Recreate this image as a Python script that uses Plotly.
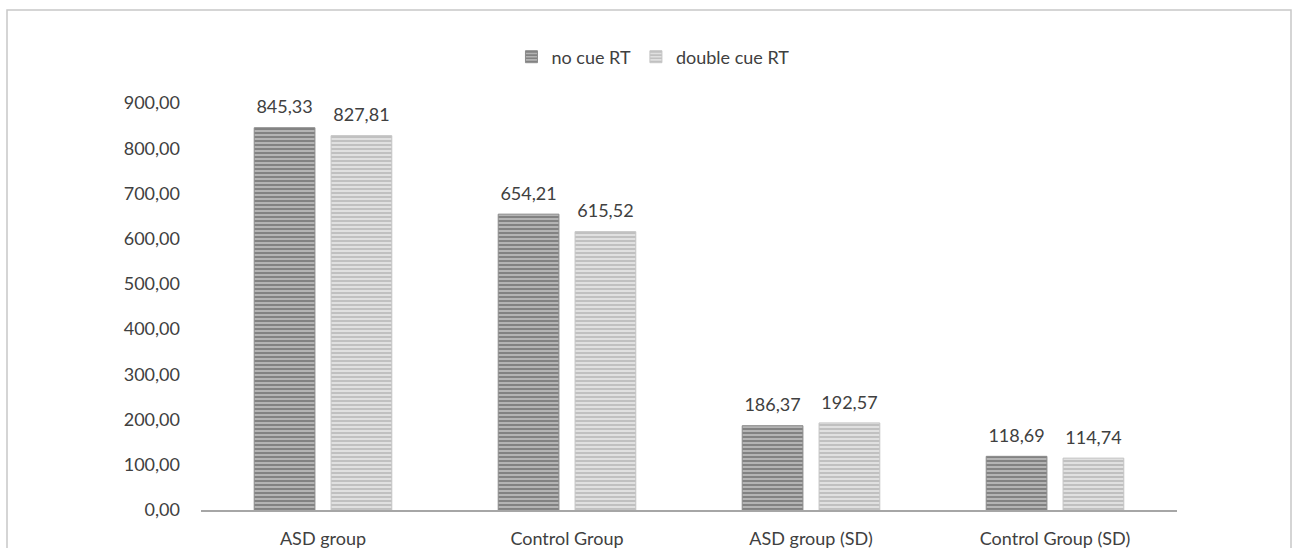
import plotly.graph_objects as go

categories = ["ASD group", "Control Group", "ASD group (SD)", "Control Group (SD)"]
no_cue = [845.33, 654.21, 186.37, 118.69]
double_cue = [827.81, 615.52, 192.57, 114.74]
series_names = ["no cue RT", "double cue RT"]
y_ticks = [0, 100, 200, 300, 400, 500, 600, 700, 800, 900]

def fmt(v):
    return f"{v:.2f}".replace(".", ",")

FONT = "Lato, 'Open Sans', sans-serif"
TXT = "#404040"
BARGAP = 0.37

styles = [
    dict(color="#a6a6a6", line=dict(color="#8a8a8a", width=1),
         pattern=dict(shape="-", size=4, solidity=0.45,
                      fgcolor="#7c7c7c", bgcolor="#b4b4b4", fillmode="replace")),
    dict(color="#d4d4d4", line=dict(color="#c4c4c4", width=1),
         pattern=dict(shape="-", size=4, solidity=0.45,
                      fgcolor="#bdbdbd", bgcolor="#e0e0e0", fillmode="replace")),
]

fig = go.Figure()
for name, vals, st in zip(series_names, [no_cue, double_cue], styles):
    fig.add_trace(go.Bar(x=categories, y=vals, name=name, marker=st))
# value labels, grouped like the bars
for name, vals in zip(series_names, [no_cue, double_cue]):
    fig.add_trace(go.Scatter(
        x=categories, y=vals, mode="markers+text", showlegend=False,
        text=[fmt(v) for v in vals], textposition="top center",
        textfont=dict(family=FONT, size=18, color=TXT),
        marker=dict(size=14, color="rgba(0,0,0,0)"),
        cliponaxis=False, hoverinfo="skip",
    ))

fig.update_layout(
    width=1293, height=548,
    margin=dict(l=201, r=116, t=103, b=38, autoexpand=False),
    paper_bgcolor="white", plot_bgcolor="white",
    barmode="group", bargap=BARGAP, bargroupgap=0.21,
    scattermode="group", scattergap=BARGAP,
    font=dict(family=FONT, size=18, color=TXT),
    showlegend=True,
    legend=dict(orientation="h", xref="container", yref="container",
                x=0.505, xanchor="center", y=1 - 57 / 548, yanchor="middle",
                font=dict(family=FONT, size=18, color=TXT),
                itemwidth=30, traceorder="normal", bgcolor="rgba(0,0,0,0)"),
    xaxis=dict(showgrid=False, showline=True, linecolor="#a6a6a6", linewidth=2,
               ticks="outside", ticklen=11, tickcolor="rgba(0,0,0,0)",
               automargin=False,
               tickfont=dict(family=FONT, size=18, color=TXT)),
    yaxis=dict(range=[0, 900], tickvals=y_ticks, ticktext=[fmt(v) for v in y_ticks],
               showgrid=False, showline=False, zeroline=False,
               ticklabelstandoff=20, automargin=False,
               tickfont=dict(family=FONT, size=18, color=TXT)),
    shapes=[dict(type="rect", xref="paper", yref="paper",
                 x0=(7 - 201) / 976, x1=(1291 - 201) / 976,
                 y0=-0.3, y1=(510 - 10) / 407,
                 line=dict(color="#c8c8c8", width=1.5), fillcolor="rgba(0,0,0,0)",
                 layer="below")],
)

fig.write_html("out.html")
